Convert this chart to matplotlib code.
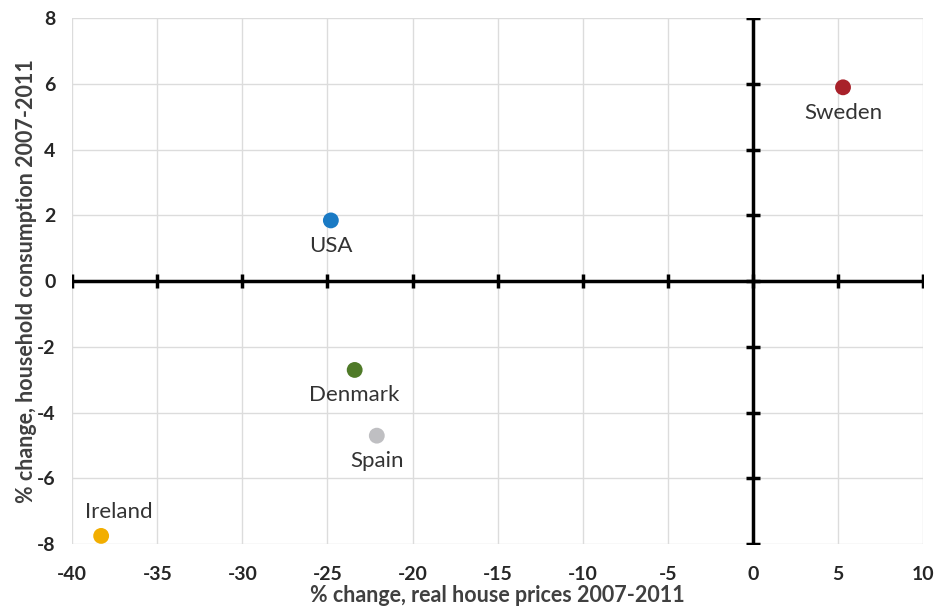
import matplotlib.pyplot as plt

# --- Données ---
countries = ["Sweden", "USA", "Denmark", "Spain", "Ireland"]
house_prices = [5.3, -24.8, -23.4, -22.1, -38.3]
consumption = [5.9, 1.85, -2.7, -4.7, -7.75]
colors = ["#A8212A", "#1A7AC4", "#4F7A28", "#BFBFC2", "#F2AE00"]
label_pos = ["below", "below", "below", "below", "above"]

x_ticks = list(range(-40, 11, 5))
y_ticks = list(range(-8, 9, 2))

plt.rcParams["font.family"] = ["Lato", "DejaVu Sans"]
plt.rcParams["axes.unicode_minus"] = False

fig = plt.figure(figsize=(9.38, 6.10), dpi=100)
ax = fig.add_axes([0.077, 0.108, 0.907, 0.862])

ax.set_xlim(-40, 10)
ax.set_ylim(-8, 8)
ax.set_xticks(x_ticks)
ax.set_yticks(y_ticks)
ax.grid(True, color="#DCDCDC", linewidth=1)
ax.set_axisbelow(True)
for s in ax.spines.values():
    s.set_visible(False)
ax.tick_params(length=0, labelsize=14, labelcolor="#262626")
ax.tick_params(axis="x", pad=16)
ax.tick_params(axis="y", pad=12)
for lab in ax.get_xticklabels() + ax.get_yticklabels():
    lab.set_fontweight("bold")

# axes à zéro avec petites graduations
ax.axhline(0, color="black", linewidth=2.5, zorder=2)
ax.axvline(0, color="black", linewidth=2.5, zorder=2)
ax.plot(x_ticks, [0] * len(x_ticks), linestyle="none", marker="|",
        markersize=10, markeredgewidth=2.5, color="black", zorder=2)
ax.plot([0] * len(y_ticks), y_ticks, linestyle="none", marker="_",
        markersize=10, markeredgewidth=2.5, color="black", zorder=2)

# points
ax.scatter(house_prices, consumption, s=130, c=colors, zorder=3, linewidths=0)
for nom, x, y, pos in zip(countries, house_prices, consumption, label_pos):
    if pos == "below":
        ax.annotate(nom, (x, y), xytext=(0, -11), textcoords="offset points",
                    ha="center", va="top", fontsize=16, color="#333333")
    else:
        ax.annotate(nom, (x, y), xytext=(13, 10), textcoords="offset points",
                    ha="center", va="bottom", fontsize=16, color="#333333")

ax.set_xlabel("% change, real house prices 2007-2011", fontsize=15.5,
              fontweight="bold", color="#404040", labelpad=1)
ax.set_ylabel("% change, household consumption 2007-2011", fontsize=15.5,
              fontweight="bold", color="#404040", labelpad=0)

plt.savefig("out.png", dpi=100)
